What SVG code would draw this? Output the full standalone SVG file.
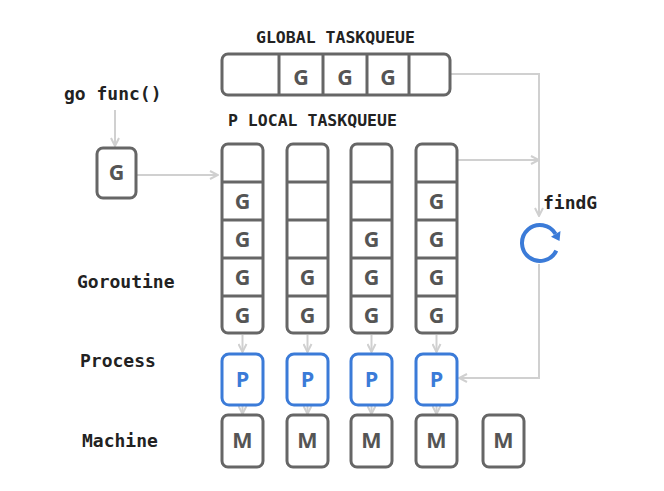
<svg xmlns="http://www.w3.org/2000/svg" width="664" height="491" viewBox="0 0 664 491">
<style>
.box{fill:#fff;stroke:#666;stroke-width:3}
.div{stroke:#666;stroke-width:3}
.pbox{fill:#fff;stroke:#3b7bd8;stroke-width:3}
.g{font-family:"Open Sans","DejaVu Sans",sans-serif;font-size:21.5px;fill:#555;text-anchor:middle;font-weight:bold}
.p{font-family:"Open Sans","DejaVu Sans",sans-serif;font-size:21.5px;fill:#3b7bd8;text-anchor:middle;font-weight:bold}
.hd{font-family:"DejaVu Sans Mono","Liberation Mono",monospace;font-size:16.5px;fill:#222;font-weight:bold}
.lb{font-family:"DejaVu Sans Mono","Liberation Mono",monospace;font-size:18px;fill:#222;font-weight:bold}
.con{fill:none;stroke:#d0d0d0;stroke-width:2}
</style>
<defs>
<marker id="ah" viewBox="0 0 10 10" refX="9" refY="5" markerWidth="10" markerHeight="10" markerUnits="userSpaceOnUse" orient="auto">
<path d="M1,1 L9,5 L1,9" fill="none" stroke="#d0d0d0" stroke-width="2"/>
</marker>
</defs>

<text class="hd" x="256" y="43">GLOBAL TASKQUEUE</text>
<text class="hd" x="228" y="126">P LOCAL TASKQUEUE</text>
<text class="lb" x="64" y="100">go func()</text>
<text class="lb" x="77" y="288">Goroutine</text>
<text class="lb" x="80" y="367">Process</text>
<text class="lb" x="82" y="447">Machine</text>
<text class="lb" x="543" y="209">findG</text>

<g id="connectors">
<path class="con" d="M115,110 V146" marker-end="url(#ah)"/>
<path class="con" d="M137,175 H218" marker-end="url(#ah)"/>
<path class="con" d="M451,74 H539 V216" marker-end="url(#ah)"/>
<path class="con" d="M458,160 H539" marker-end="url(#ah)"/>
<path class="con" d="M539,264 V378 H459" marker-end="url(#ah)"/>
<path class="con" d="M242.5,335 V352" marker-end="url(#ah)"/>
<path class="con" d="M307.5,335 V352" marker-end="url(#ah)"/>
<path class="con" d="M371.5,335 V352" marker-end="url(#ah)"/>
<path class="con" d="M436.5,335 V352" marker-end="url(#ah)"/>
<path class="con" d="M242.5,396 V414" marker-end="url(#ah)"/>
<path class="con" d="M307.5,396 V414" marker-end="url(#ah)"/>
<path class="con" d="M371.5,396 V414" marker-end="url(#ah)"/>
<path class="con" d="M436.5,396 V414" marker-end="url(#ah)"/>
</g>

<g id="global-queue">
<rect class="box" x="222" y="54" width="228" height="41" rx="6"/>
<path class="div" d="M279,54 V95 M323,54 V95 M367,54 V95 M409,54 V95"/>
<text class="g" x="301" y="85">G</text>
<text class="g" x="345" y="85">G</text>
<text class="g" x="388" y="85">G</text>
</g>

<g id="new-g">
<rect class="box" x="97" y="148" width="39" height="50" rx="6"/>
<text class="g" x="116.5" y="180">G</text>
</g>

<g id="local-queue-1">
<rect class="box" x="222" y="144" width="41" height="189" rx="6"/>
<path class="div" d="M222,182 H263 M222,220 H263 M222,258 H263 M222,296 H263"/>
<text class="g" x="242.5" y="209">G</text>
<text class="g" x="242.5" y="247">G</text>
<text class="g" x="242.5" y="285">G</text>
<text class="g" x="242.5" y="323">G</text>
</g>
<g id="local-queue-2">
<rect class="box" x="287" y="144" width="41" height="189" rx="6"/>
<path class="div" d="M287,182 H328 M287,220 H328 M287,258 H328 M287,296 H328"/>
<text class="g" x="307.5" y="285">G</text>
<text class="g" x="307.5" y="323">G</text>
</g>
<g id="local-queue-3">
<rect class="box" x="351" y="144" width="41" height="189" rx="6"/>
<path class="div" d="M351,182 H392 M351,220 H392 M351,258 H392 M351,296 H392"/>
<text class="g" x="371.5" y="247">G</text>
<text class="g" x="371.5" y="285">G</text>
<text class="g" x="371.5" y="323">G</text>
</g>
<g id="local-queue-4">
<rect class="box" x="416" y="144" width="41" height="189" rx="6"/>
<path class="div" d="M416,182 H457 M416,220 H457 M416,258 H457 M416,296 H457"/>
<text class="g" x="436.5" y="209">G</text>
<text class="g" x="436.5" y="247">G</text>
<text class="g" x="436.5" y="285">G</text>
<text class="g" x="436.5" y="323">G</text>
</g>

<g id="p1"><rect class="pbox" x="222" y="354" width="41" height="51" rx="7"/><text class="p" x="242.5" y="387">P</text></g>
<g id="p2"><rect class="pbox" x="287" y="354" width="41" height="51" rx="7"/><text class="p" x="307.5" y="387">P</text></g>
<g id="p3"><rect class="pbox" x="351" y="354" width="41" height="51" rx="7"/><text class="p" x="371.5" y="387">P</text></g>
<g id="p4"><rect class="pbox" x="416" y="354" width="41" height="51" rx="7"/><text class="p" x="436.5" y="387">P</text></g>

<g id="m1"><rect class="box" x="222" y="415" width="41" height="52" rx="6"/><text class="g" x="242.5" y="448">M</text></g>
<g id="m2"><rect class="box" x="287" y="415" width="41" height="52" rx="6"/><text class="g" x="307.5" y="448">M</text></g>
<g id="m3"><rect class="box" x="351" y="415" width="41" height="52" rx="6"/><text class="g" x="371.5" y="448">M</text></g>
<g id="m4"><rect class="box" x="416" y="415" width="41" height="52" rx="6"/><text class="g" x="436.5" y="448">M</text></g>
<g id="m5"><rect class="box" x="483" y="415" width="41" height="52" rx="6"/><text class="g" x="503.5" y="448">M</text></g>

<g id="findG-icon">
<path d="M556.3,250.6 A18,18 0 1 1 555.6,234" fill="none" stroke="#3b7bd8" stroke-width="4"/>
<path d="M560.5,231 L551,236.8 L559.5,241 Z" fill="#3b7bd8"/>
</g>
</svg>
